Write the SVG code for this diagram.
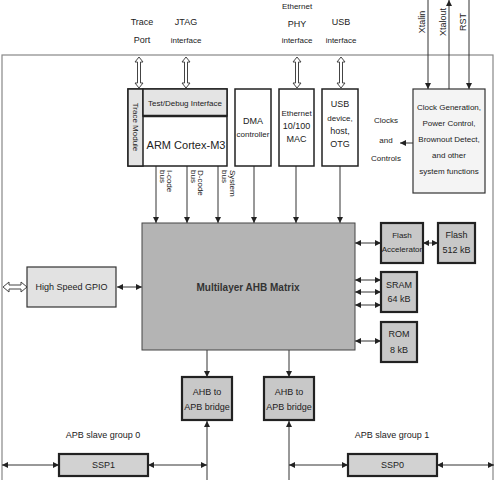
<svg xmlns="http://www.w3.org/2000/svg" width="496" height="480" viewBox="0 0 496 480">
<style>
text{font-family:"Liberation Sans",Arial,sans-serif;fill:#222;text-anchor:middle}
.s{font-size:8px}
.m{font-size:9px}
.l{font-size:11px}
.box{stroke:#222;stroke-width:1.5}
.dark{stroke:#222;stroke-width:2.2}
.ln{stroke:#333;stroke-width:1;fill:none}
.hol{fill:#fff;stroke:#444;stroke-width:1}
</style>
<defs>
<marker id="ah" viewBox="0 0 10 10" refX="10" refY="5" markerWidth="6" markerHeight="6" markerUnits="userSpaceOnUse" orient="auto-start-reverse"><path d="M0,0 L10,5 L0,10 Z" fill="#222"/></marker>
<path id="vdbl" d="M0,0 L4,5 L1.5,5 L1.5,26 L4,26 L0,31 L-4,26 L-1.5,26 L-1.5,5 L-4,5 Z"/>
</defs>
<rect x="2" y="55" width="491" height="440" fill="none" stroke="#888" stroke-width="1.2"/>

<g id="labels-top">
<text class="m" x="142" y="25">Trace</text><text class="m" x="142" y="43">Port</text>
<text class="m" x="186" y="25">JTAG</text><text class="s" x="186" y="43">interface</text>
<text class="s" x="297" y="9">Ethernet</text><text class="m" x="297" y="27">PHY</text><text class="s" x="297" y="43">interface</text>
<text class="m" x="341" y="25">USB</text><text class="s" x="341" y="43">interface</text>
<text class="m" transform="translate(425,22) rotate(-90)">Xtalin</text>
<text class="m" transform="translate(446,22) rotate(-90)">Xtalout</text>
<text class="m" transform="translate(466,22) rotate(-90)">RST</text>
</g>

<g id="connectors">
<use href="#vdbl" x="139" y="57" class="hol"/>
<use href="#vdbl" x="186" y="57" class="hol"/>
<use href="#vdbl" x="297" y="57" class="hol"/>
<use href="#vdbl" x="341" y="57" class="hol"/>
<line class="ln" x1="428" y1="0" x2="428" y2="89" marker-end="url(#ah)" stroke-width="1.2"/>
<line class="ln" x1="449" y1="89" x2="449" y2="0" marker-end="url(#ah)" stroke-width="1.2"/>
<line class="ln" x1="469" y1="0" x2="469" y2="89" marker-end="url(#ah)" stroke-width="1.2"/>
<line class="ln" x1="413" y1="143" x2="400" y2="143" marker-end="url(#ah)" stroke-width="1.5"/>
<line class="ln" x1="156" y1="166" x2="156" y2="223" marker-end="url(#ah)"/>
<line class="ln" x1="187" y1="166" x2="187" y2="223" marker-end="url(#ah)"/>
<line class="ln" x1="218" y1="166" x2="218" y2="223" marker-end="url(#ah)"/>
<line class="ln" x1="254" y1="166" x2="254" y2="223" marker-end="url(#ah)"/>
<line class="ln" x1="296" y1="166" x2="296" y2="223" marker-end="url(#ah)"/>
<line class="ln" x1="340" y1="166" x2="340" y2="223" marker-end="url(#ah)"/>
<path class="hol" d="M3,287 L9,282 L9,285 L21,285 L21,282 L27,287 L21,292 L21,289 L9,289 L9,292 Z"/>
<line class="ln" x1="117" y1="287" x2="142" y2="287" marker-start="url(#ah)" marker-end="url(#ah)"/>
<line class="ln" x1="355" y1="243" x2="381" y2="243" marker-start="url(#ah)" marker-end="url(#ah)"/>
<line class="ln" x1="423" y1="243" x2="438" y2="243" marker-start="url(#ah)" marker-end="url(#ah)"/>
<line class="ln" x1="355" y1="280" x2="381" y2="280" marker-start="url(#ah)" marker-end="url(#ah)"/>
<line class="ln" x1="355" y1="292" x2="381" y2="292" marker-start="url(#ah)" marker-end="url(#ah)"/>
<line class="ln" x1="355" y1="305" x2="381" y2="305" marker-start="url(#ah)" marker-end="url(#ah)"/>
<line class="ln" x1="355" y1="341" x2="381" y2="341" marker-start="url(#ah)" marker-end="url(#ah)"/>
<line class="ln" x1="207" y1="350" x2="207" y2="377" marker-end="url(#ah)"/>
<line class="ln" x1="289" y1="350" x2="289" y2="377" marker-end="url(#ah)"/>
<line class="ln" x1="207" y1="480" x2="207" y2="421" marker-end="url(#ah)"/>
<line class="ln" x1="289" y1="480" x2="289" y2="421" marker-end="url(#ah)"/>
<line class="ln" x1="2" y1="465" x2="59" y2="465" marker-start="url(#ah)" marker-end="url(#ah)"/>
<line class="ln" x1="148" y1="465" x2="207" y2="465" marker-start="url(#ah)" marker-end="url(#ah)"/>
<line class="ln" x1="289" y1="465" x2="348" y2="465" marker-start="url(#ah)" marker-end="url(#ah)"/>
<line class="ln" x1="437" y1="465" x2="494" y2="465" marker-start="url(#ah)" marker-end="url(#ah)"/>
</g>

<g id="arm">
<rect x="128" y="89" width="99" height="77" fill="#fff" class="box"/>
<rect x="128" y="89" width="15" height="77" fill="#e4e4e4" class="box"/>
<rect x="143" y="89" width="84" height="27" fill="#e4e4e4" class="box"/>
<line x1="143" y1="116" x2="227" y2="116" stroke="#222" stroke-width="2.5"/>
<text class="s" transform="translate(133,127) rotate(90)">Trace Module</text>
<text class="s" x="185" y="106">Test/Debug Interface</text>
<text class="l" x="186" y="149">ARM Cortex-M3</text>
</g>
<g id="bus-labels">
<text class="s" transform="translate(167,170) rotate(90)" style="text-anchor:start">I-code</text>
<text class="s" transform="translate(160,170) rotate(90)" style="text-anchor:start">bus</text>
<text class="s" transform="translate(198,170) rotate(90)" style="text-anchor:start">D-code</text>
<text class="s" transform="translate(191,170) rotate(90)" style="text-anchor:start">bus</text>
<text class="s" transform="translate(230,170) rotate(90)" style="text-anchor:start">System</text>
<text class="s" transform="translate(222,170) rotate(90)" style="text-anchor:start">bus</text>
</g>
<g id="dma"><rect x="235" y="89" width="36" height="77" fill="#fff" class="box"/>
<text class="m" x="253" y="124">DMA</text><text class="s" x="253" y="137">controller</text></g>
<g id="ethernet"><rect x="279" y="89" width="35" height="77" fill="#fff" class="box"/>
<text class="s" x="296.5" y="116">Ethernet</text><text class="m" x="296.5" y="129">10/100</text><text class="m" x="296.5" y="142">MAC</text></g>
<g id="usb"><rect x="322" y="89" width="36" height="77" fill="#fff" class="box"/>
<text class="m" x="340" y="107">USB</text><text class="s" x="340" y="121">device,</text><text class="m" x="340" y="134">host,</text><text class="m" x="340" y="147">OTG</text></g>
<g id="clocks-label"><text class="s" x="386" y="123">Clocks</text><text class="s" x="386" y="143">and</text><text class="s" x="386" y="161">Controls</text></g>
<g id="clock-gen"><rect x="413" y="89" width="72" height="104" fill="#f4f4f4" stroke="#333" stroke-width="1.2"/>
<text class="s" x="449" y="110">Clock Generation,</text><text class="s" x="449" y="126">Power Control,</text><text class="s" x="449" y="142">Brownout Detect,</text><text class="s" x="449" y="158">and other</text><text class="s" x="449" y="174">system functions</text></g>
<g id="matrix"><rect x="142" y="223" width="213" height="127" fill="#b4b4b4" stroke="#444" stroke-width="1"/>
<text x="248" y="291" style="font-size:10px;font-weight:bold;fill:#333">Multilayer AHB Matrix</text></g>
<g id="gpio"><rect x="27" y="267" width="89" height="40" fill="#e2e2e2" stroke="#333" stroke-width="1.2"/>
<text class="m" x="71.5" y="290">High Speed GPIO</text></g>
<g id="flash-acc"><rect x="381" y="223" width="42" height="40" fill="#c8c8c8" class="dark"/>
<text class="s" x="402" y="238">Flash</text><text class="s" x="402" y="252">Accelerator</text></g>
<g id="flash"><rect x="438" y="223" width="37" height="40" fill="#c8c8c8" class="dark"/>
<text class="m" x="456.5" y="238">Flash</text><text class="m" x="456.5" y="253">512 kB</text></g>
<g id="sram"><rect x="381" y="272" width="36" height="40" fill="#c8c8c8" class="dark"/>
<text class="m" x="399" y="288">SRAM</text><text class="m" x="399" y="302">64 kB</text></g>
<g id="rom"><rect x="381" y="322" width="36" height="40" fill="#c8c8c8" class="dark"/>
<text class="m" x="399" y="337">ROM</text><text class="m" x="399" y="353">8 kB</text></g>
<g id="bridge0"><rect x="182" y="377" width="50" height="43" fill="#c8c8c8" class="dark"/>
<text class="m" x="207" y="395">AHB to</text><text class="m" x="207" y="410">APB bridge</text></g>
<g id="bridge1"><rect x="264" y="377" width="50" height="43" fill="#c8c8c8" class="dark"/>
<text class="m" x="289" y="395">AHB to</text><text class="m" x="289" y="410">APB bridge</text></g>
<g id="group-labels"><text class="m" x="103" y="438">APB slave group 0</text><text class="m" x="392" y="438">APB slave group 1</text></g>
<g id="ssp1"><rect x="59" y="454" width="89" height="22" fill="#d2d2d2" class="dark"/><text class="m" x="103.5" y="468">SSP1</text></g>
<g id="ssp0"><rect x="348" y="454" width="89" height="22" fill="#d2d2d2" class="dark"/><text class="m" x="392.5" y="468">SSP0</text></g>
</svg>
